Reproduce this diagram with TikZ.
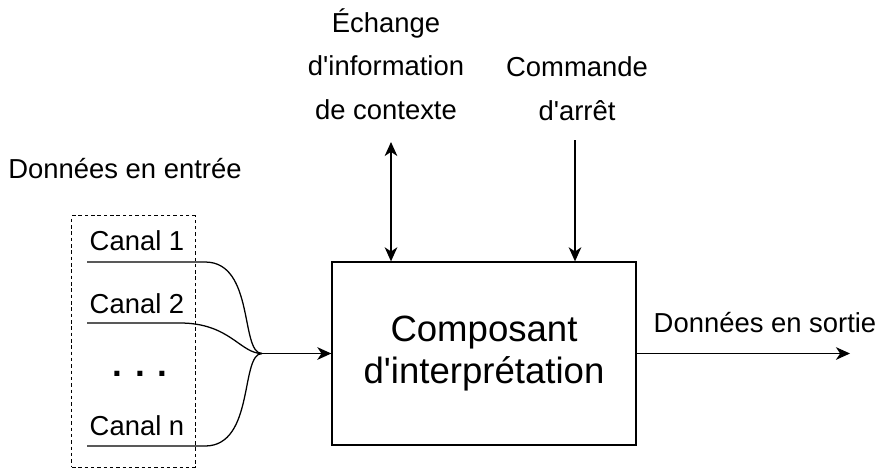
\documentclass[tikz,border=0pt]{standalone}
\usepackage{fontspec}
\setmainfont{Liberation Sans}
\usetikzlibrary{arrows.meta,positioning}

\begin{document}
\begin{tikzpicture}[
    x=0.025cm, y=-0.025cm,
    label/.style={font=\fontsize{19.5}{31}\selectfont, align=center, inner sep=0pt},
    composant/.style={rectangle, draw, line width=0.9pt, minimum width=7.6cm, minimum height=4.575cm, align=center, font=\fontsize{26}{29.2}\selectfont},
    group/.style={rectangle, draw, dash pattern=on 2.5pt off 2pt, line width=0.7pt, minimum width=3.075cm, minimum height=6.275cm, inner sep=0pt},
    wire/.style={line width=0.9pt},
    arrow/.style={line width=0.9pt, -{Stealth[length=10pt,width=9pt,inset=3pt]}},
    biarrow/.style={line width=0.9pt, {Stealth[length=10pt,width=9pt,inset=3pt]}-{Stealth[length=10pt,width=9pt,inset=3pt]}}
]
    \useasboundingbox (0,0) rectangle (878,469);

    % Interpretation block
    \node [composant] (comp) at (484,353.5) {Composant\\d\textquotesingle interprétation};

    % Input channels
    \node [group] (canaux) at (133.5,341.5) {};
    \node [label, anchor=base] (titre) at (125,178) {Données en entrée};
    \node [label, anchor=base] (canal1) at (137,250) {Canal 1};
    \node [label, anchor=base] (canal2) at (137,313) {Canal 2};
    \node [font=\fontsize{25}{30}\selectfont\bfseries] (dots) at (140,374) {. . .};
    \node [label, anchor=base] (canaln) at (137,435) {Canal n};

    % Wires to the junction
    \coordinate (jn) at (262,353.5);
    \coordinate (c1) at (87,262);
    \coordinate (c2) at (87,323);
    \coordinate (cn) at (87,446);
    \draw [wire] (c1) -- (205,262) .. controls (255,262) and (240,353.5) .. (jn);
    \draw [wire] (c2) -- (180,323) .. controls (230,323) and (240,353.5) .. (jn);
    \draw [wire] (cn) -- (205,446) .. controls (255,446) and (240,353.5) .. (jn);
    \draw [arrow] (jn) -- (comp.west);

    % Signals on top
    \node [label] (ctx) at (386,64) {Échange\\d\textquotesingle information\\de contexte};
    \node [label] (cmd) at (577,88.5) {Commande\\d\textquotesingle arrêt};
    \coordinate (ctxend) at (391,142);
    \coordinate (cmdstart) at (575,140);
    \draw [biarrow] (ctxend) -- (ctxend |- comp.north);
    \draw [arrow] (cmdstart) -- (cmdstart |- comp.north);

    % Output
    \coordinate (out) at (850,353.5);
    \draw [arrow] (comp.east) -- (out);
    \node [label, anchor=base] (sortie) at (765,332) {Données en sortie};
\end{tikzpicture}
\end{document}
